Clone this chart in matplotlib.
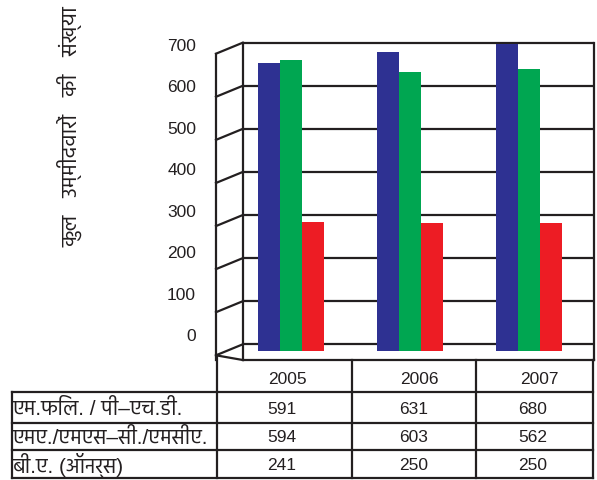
import matplotlib
matplotlib.use("Agg")
import matplotlib.pyplot as plt
import matplotlib.transforms as mtransforms
from matplotlib import font_manager

# data
years = ["2005", "2006", "2007"]
row_labels = ["एम.फिल. / पी–एच.डी.", "एमए./एमएस–सी./एमसीए.", "बी.ए. (ऑनर्स)"]
mphil_phd = [591, 631, 680]
ma_msc_mca = [594, 603, 562]
ba_hons = [241, 250, 250]
# bar heights as drawn in the picture (they do not follow the table exactly)
bar_mphil = [668, 695, 712]
bar_ma = [675, 648, 654]
bar_ba = [299, 297, 296]
yticks = [0, 100, 200, 300, 400, 500, 600, 700]
ylabel = "कुल   उम्मीदवारों   की   संख्या"

colors = ["#2e3192", "#00a651", "#ed1c24"]
line_c = "#231f20"

names = {f.name for f in font_manager.fontManager.ttflist}
deva = "DejaVu Sans"
for cand in ["Hind", "Mukta", "Noto Sans Devanagari", "Ek Mukta", "Amiko", "Biryani", "Anek Devanagari"]:
    if cand in names:
        deva = cand
        break
fam = ["Liberation Sans", deva, "DejaVu Sans"]
plt.rcParams["font.family"] = fam

W, H = 597, 480
fig = plt.figure(figsize=(W / 100, H / 100), dpi=100)

# chart area: from front-left edge (x=216px) to right edge (594px)
ax = fig.add_axes([216 / W, (H - 360) / H, 378 / W, (360 - 42.7) / H])
ax.set_xlim(-0.63, 2.55)
ax.set_ylim(-20.9, 715.5)
ax.axis("off")

back_off = 15.5   # back wall lines sit a bit above the bar base
front_off = -10
x_front = -0.63
x_back = -0.405
x_right = 2.55
lw = 1.6

# back wall gridlines
for t in yticks:
    ax.plot([x_back, x_right], [t + back_off, t + back_off], color=line_c, lw=lw,
            zorder=1, clip_on=False, solid_capstyle="butt")
# left wall slanted lines
for t in yticks:
    ax.plot([x_front, x_back], [t + front_off, t + back_off], color=line_c, lw=lw,
            zorder=1, clip_on=False)
# floor
ax.plot([x_front, x_back], [front_off, -20.9], color=line_c, lw=lw, zorder=1, clip_on=False)
ax.plot([x_back, x_right], [-20.9, -20.9], color=line_c, lw=lw, zorder=1, clip_on=False)
# verticals
ax.plot([x_back, x_back], [-20.9, 700 + back_off], color=line_c, lw=lw, zorder=1, clip_on=False)
ax.plot([x_right, x_right], [-20.9, 700 + back_off], color=line_c, lw=lw, zorder=1, clip_on=False)
ax.plot([x_front, x_front], [-20.9, 700 + front_off], color=line_c, lw=lw, zorder=1, clip_on=False)

# bars
bw = 0.185
xs = list(range(len(years)))
for i, (vals, c) in enumerate(zip([bar_mphil, bar_ma, bar_ba], colors)):
    ax.bar([x + (i - 1) * bw for x in xs], vals, width=bw, color=c, zorder=3)

# y tick labels
trans = mtransforms.blended_transform_factory(fig.transFigure, ax.transData)
for t in yticks:
    ax.text(196 / W, t * 0.964 + 33, str(t), transform=trans, ha="right", va="center",
            fontsize=12.5, color="#231f20")

fig.text(70 / W, 1 - 127 / H, ylabel, rotation=90, ha="center", va="center",
         fontsize=15.5, color="#231f20")

# table (pixel coordinates)
tab = fig.add_axes([0, 0, 1, 1], zorder=-1)
tab.set_xlim(0, W)
tab.set_ylim(H, 0)
tab.axis("off")
rows_y = [392.3, 422.7, 450.3, 478.3]
for y in rows_y:
    tab.plot([11.7, 593], [y, y], color=line_c, lw=lw)
tab.plot([11.7, 11.7], [392.3, 478.3], color=line_c, lw=lw)
tab.plot([216.7, 216.7], [355, 478.3], color=line_c, lw=lw)
for x in [352, 476, 593.3]:
    tab.plot([x, x], [360, 478.3], color=line_c, lw=lw)

year_x = [287, 419, 539]
val_x = [282, 414, 533]
for yr, x in zip(years, year_x):
    tab.text(x, 379, yr, ha="center", va="center", fontsize=12.5, color="#231f20")
for r, (lab, vals) in enumerate(zip(row_labels, [mphil_phd, ma_msc_mca, ba_hons])):
    yc = (rows_y[r] + rows_y[r + 1]) / 2 + 1.5
    tab.text(13, yc, lab, ha="left", va="center", fontsize=15, color="#231f20")
    for v, x in zip(vals, val_x):
        tab.text(x, yc, str(v), ha="center", va="center", fontsize=12.5, color="#231f20")

fig.savefig("out.png", dpi=100)
